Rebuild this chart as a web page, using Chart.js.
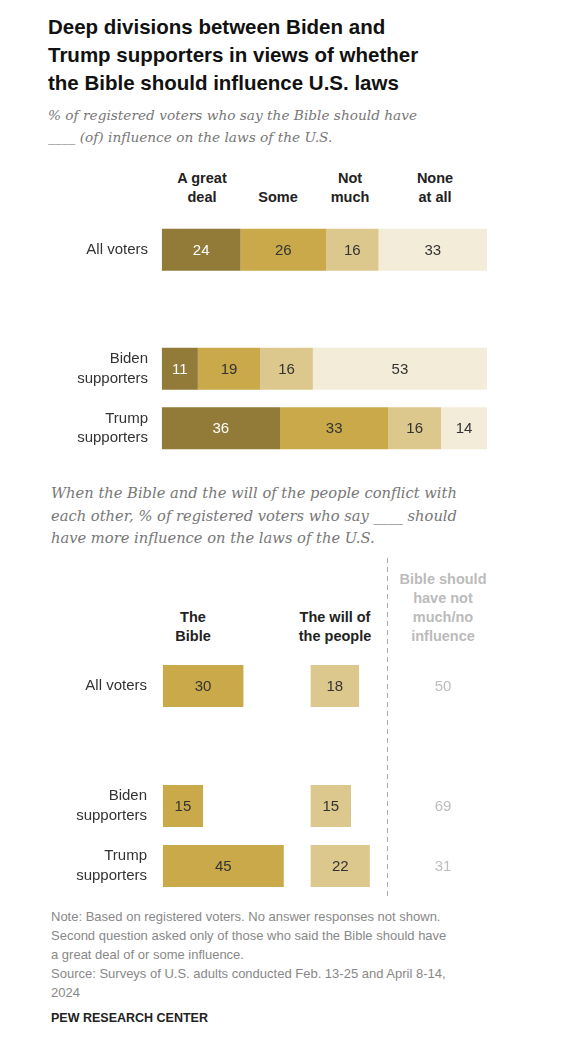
<!DOCTYPE html>
<html>
<head>
<meta charset="utf-8">
<script src="https://cdn.jsdelivr.net/npm/chart.js@4.4.1/dist/chart.umd.min.js"></script>
<style>
  body { margin: 0; background: #fff; }
  #page { position: relative; width: 564px; height: 1040px; background: #fff; font-family: "Liberation Sans", Arial, sans-serif; color: #222; }
  .abs { position: absolute; }
  .title { left: 48px; top: 13px; font-size: 20.5px; font-weight: bold; line-height: 28px; color: #111; }
  .sub { font-family: "DejaVu Serif", Georgia, serif; font-style: italic; color: #777; font-size: 13.7px; line-height: 22px; }
  .head { font-size: 14.5px; font-weight: bold; line-height: 19px; text-align: center; transform: translateX(-50%); white-space: nowrap; color: #222; }
  .note { left: 51px; top: 907px; font-size: 13px; line-height: 19px; color: #888; }
  .pew { left: 51px; top: 1011px; font-size: 12.5px; font-weight: bold; color: #222; }
</style>
</head>
<body>
<div id="page">
  <div class="abs title">Deep divisions between Biden and<br>Trump supporters in views of whether<br>the Bible should influence U.S. laws</div>
  <div class="abs sub" style="left:48px; top:104px;">% of registered voters who say the Bible should have<br>____ (of) influence on the laws of the U.S.</div>

  <div class="abs head" style="left:202px; bottom:833px;">A great<br>deal</div>
  <div class="abs head" style="left:278px; bottom:833px;">Some</div>
  <div class="abs head" style="left:350px; bottom:833px;">Not<br>much</div>
  <div class="abs head" style="left:435px; bottom:833px;">None<br>at all</div>

  <div class="abs" style="left:0; top:220px; width:564px; height:238px;"><canvas id="influenceChart"></canvas></div>

  <div class="abs sub" style="left:51px; top:482px; font-size:14.7px; line-height:22.5px;">When the Bible and the will of the people conflict with<br>each other, % of registered voters who say ____ should<br>have more influence on the laws of the U.S.</div>

  <div class="abs head" style="left:193px; bottom:394px;">The<br>Bible</div>
  <div class="abs head" style="left:335px; bottom:394px;">The will of<br>the people</div>
  <div class="abs head" style="left:443px; bottom:394px; color:#bbb;">Bible should<br>have not<br>much/no<br>influence</div>

  <div class="abs" style="left:0; top:550px; width:564px; height:350px;"><canvas id="conflictChart"></canvas></div>

  <div class="abs note">Note: Based on registered voters. No answer responses not shown.<br>Second question asked only of those who said the Bible should have<br>a great deal of or some influence.<br>Source: Surveys of U.S. adults conducted Feb. 13-25 and April 8-14,<br>2024</div>
  <div class="abs pew">PEW RESEARCH CENTER</div>
</div>

<script>
// row labels (blank row leaves the gap under "All voters")
const rowLabels = ['All voters', '', ['Biden', 'supporters'], ['Trump', 'supporters']];

// how much influence the Bible should have
const greatDeal = [24, null, 11, 36];
const some = [26, null, 19, 33];
const notMuch = [16, null, 16, 16];
const noneAtAll = [33, null, 53, 14];

// when they conflict, which should have more influence
const bibleMore = [30, null, 15, 45];
const willMore = [18, null, 15, 22];
const notMuchNo = [50, null, 69, 31];

const FONT = '"Liberation Sans", Arial, sans-serif';

// numbers in the middle of each bar
const valueLabels = {
    id: 'valueLabels',
    afterDatasetsDraw(chart) {
        const ctx = chart.ctx;
        ctx.save();
        ctx.font = '15px ' + FONT;
        ctx.textAlign = 'center';
        ctx.textBaseline = 'middle';
        chart.data.datasets.forEach((ds, i) => {
            chart.getDatasetMeta(i).data.forEach((bar, j) => {
                const v = ds.data[j];
                if (v == null) return;
                const p = bar.getProps(['x', 'y', 'base'], true);
                ctx.fillStyle = ds.labelColor || '#333';
                ctx.fillText(v, (p.x + p.base) / 2, p.y + 1);
            });
        });
        ctx.restore();
    }
};

// fixed-width label column, no extra vertical padding from the tick labels
function rowAxis(width, pad) {
    return {
        grid: { display: false, drawTicks: false },
        border: { display: false },
        ticks: { color: '#333', padding: pad, font: { family: FONT, size: 15, lineHeight: 1.3 } },
        afterFit: function (axis) {
            axis.width = width;
            axis.paddingTop = 0;
            axis.paddingBottom = 0;
        }
    };
}

new Chart(document.getElementById('influenceChart'), {
    type: 'bar',
    data: {
        labels: rowLabels,
        datasets: [
            { label: 'A great deal', data: greatDeal, backgroundColor: '#927b38', labelColor: '#fff' },
            { label: 'Some', data: some, backgroundColor: '#c9a94a' },
            { label: 'Not much', data: notMuch, backgroundColor: '#dcc78c' },
            { label: 'None at all', data: noneAtAll, backgroundColor: '#f3ecd8' }
        ]
    },
    options: {
        indexAxis: 'y',
        responsive: true,
        maintainAspectRatio: false,
        animation: false,
        datasets: { bar: { barPercentage: 0.71, categoryPercentage: 1 } },
        layout: { padding: { left: 0, right: 77, top: 0, bottom: 0 } },
        plugins: { legend: { display: false }, tooltip: { enabled: false } },
        scales: {
            x: { stacked: true, min: 0, max: 99, display: false },
            y: Object.assign({ stacked: true }, rowAxis(161.7, 13.7))
        }
    },
    plugins: [valueLabels]
});

// second chart: "will of the people" bars start further right on their own axis
const WILL_OFFSET = 55;
const DIVIDER_AT = 83.3;
const THIRD_COL_AT = 104.2;

const conflictExtras = {
    id: 'conflictExtras',
    afterDraw(chart) {
        const ctx = chart.ctx;
        const xs = chart.scales.xBible;
        const ys = chart.scales.y;
        const area = chart.chartArea;
        ctx.save();
        // dashed divider
        const lx = Math.round(xs.getPixelForValue(DIVIDER_AT)) + 0.5;
        ctx.strokeStyle = '#aaa';
        ctx.lineWidth = 1;
        ctx.setLineDash([5, 4]);
        ctx.beginPath();
        ctx.moveTo(lx, area.top - 98);
        ctx.lineTo(lx, area.bottom + 1);
        ctx.stroke();
        // not much / no influence column
        ctx.font = '15px ' + FONT;
        ctx.fillStyle = '#bdbdbd';
        ctx.textAlign = 'center';
        ctx.textBaseline = 'middle';
        notMuchNo.forEach((v, j) => {
            if (v == null) return;
            ctx.fillText(v, xs.getPixelForValue(THIRD_COL_AT), ys.getPixelForValue(j) + 1);
        });
        ctx.restore();
    }
};

new Chart(document.getElementById('conflictChart'), {
    type: 'bar',
    data: {
        labels: rowLabels,
        datasets: [
            { label: 'The Bible', data: bibleMore, backgroundColor: '#c9a94a', xAxisID: 'xBible' },
            { label: 'The will of the people', data: willMore, backgroundColor: '#dcc78c', xAxisID: 'xWill' }
        ]
    },
    options: {
        indexAxis: 'y',
        responsive: true,
        maintainAspectRatio: false,
        animation: false,
        datasets: { bar: { barPercentage: 0.7, categoryPercentage: 1, grouped: false } },
        layout: { padding: { left: 0, right: 78.5, top: 106, bottom: 4 } },
        plugins: { legend: { display: false }, tooltip: { enabled: false } },
        scales: {
            xBible: { type: 'linear', min: 0, max: 120, display: false },
            xWill: { type: 'linear', min: -WILL_OFFSET, max: 120 - WILL_OFFSET, display: false },
            y: rowAxis(162.7, 15.7)
        }
    },
    plugins: [valueLabels, conflictExtras]
});
</script>
</body>
</html>
